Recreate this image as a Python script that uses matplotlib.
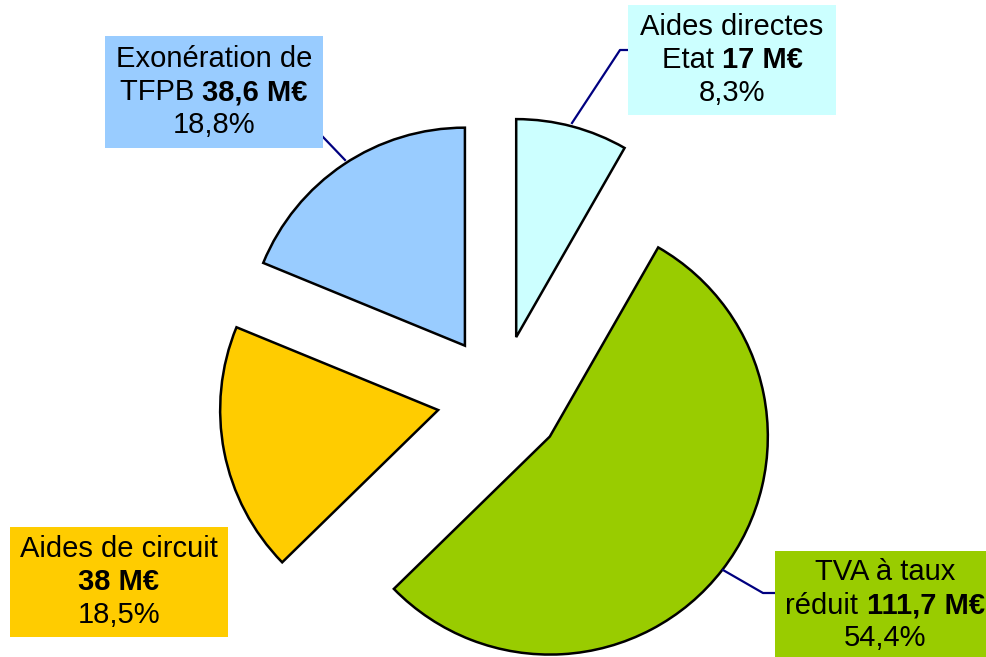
import matplotlib
matplotlib.use("Agg")
import matplotlib.pyplot as plt
from matplotlib.patches import Rectangle

plt.rcParams['font.family'] = ['Liberation Sans', 'DejaVu Sans']

# data, clockwise from the top
names = ["Aides directes Etat", "TVA à taux réduit", "Aides de circuit", "Exonération de TFPB"]
values = [17, 111.7, 38, 38.6]
pct_labels = ["8,3%", "54,4%", "18,5%", "18,8%"]
colors = ["#CCFFFF", "#99CC00", "#FFCC00", "#99CCFF"]

# label boxes: lines made of (text, bold) pieces
box_lines = [
    [[("Aides directes", False)], [("Etat ", False), ("17 M€", True)], [("8,3%", False)]],
    [[("TVA à taux", False)], [("réduit ", False), ("111,7 M€", True)], [("54,4%", False)]],
    [[("Aides de circuit", False)], [("38 M€", True)], [("18,5%", False)]],
    [[("Exonération de", False)], [("TFPB ", False), ("38,6 M€", True)], [("18,8%", False)]],
]
# box rectangles in pixels (x0, y0 top, x1, y1 bottom)
box_rects = [(628, 5, 836, 115), (775, 551, 1000, 660), (10, 527, 228, 637), (105, 36, 323, 148)]
text_x = [732, 885, 119, 214]
leaders = [
    [(572, 123), (620, 50), (628, 50)],
    [(723, 570), (763, 593), (775, 593)],
    None,
    [(345, 160), (323, 137)],
]

W, H = 987, 657
fig = plt.figure(figsize=(W / 100, H / 100), dpi=100)
ax = fig.add_axes([0, 0, 1, 1])

radius = 218
ax.pie(values, center=(500, H - 398), radius=radius, explode=[63] * 4,
       startangle=90, counterclock=False, colors=colors,
       wedgeprops=dict(edgecolor='black', linewidth=1.8))
ax.set_xlim(0, W)
ax.set_ylim(0, H)
ax.set_aspect('equal')
ax.axis('off')

for lines in leaders:
    if lines:
        ax.plot([p[0] for p in lines], [H - p[1] for p in lines], color='#000080', lw=1.6,
                zorder=3)

for (x0, y0, x1, y1), c in zip(box_rects, colors):
    ax.add_patch(Rectangle((x0, H - y1), x1 - x0, y1 - y0, facecolor=c, edgecolor='none',
                           zorder=4))

fig.canvas.draw()
renderer = fig.canvas.get_renderer()
fs = 21
for lines, (x0, y0, x1, y1), cx in zip(box_lines, box_rects, text_x):
    yc = (y0 + y1) / 2
    for i, pieces in enumerate(lines):
        y = H - (yc + (i - 1) * 33)
        arts = []
        widths = []
        for txt, bold in pieces:
            t = ax.text(0, y, txt, fontsize=fs, fontweight='bold' if bold else 'normal',
                        va='center', ha='left', zorder=5)
            bb = t.get_window_extent(renderer)
            arts.append(t)
            widths.append(bb.width)
        total = sum(widths)
        x = cx - total / 2
        for t, w in zip(arts, widths):
            t.set_x(x)
            x += w

fig.savefig("out.png", dpi=100)
